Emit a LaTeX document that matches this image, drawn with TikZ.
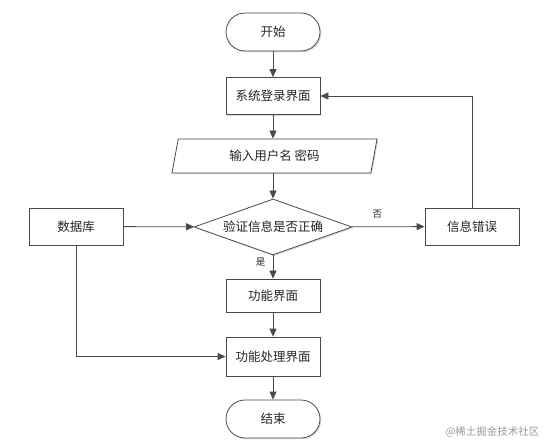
\documentclass[tikz,border=0pt]{standalone}
\usepackage{fontspec}
\setmainfont{Noto Sans CJK SC}
\usetikzlibrary{arrows.meta,shapes.geometric,shadows}
\definecolor{linec}{HTML}{4A4A4A}
\begin{document}
\begin{tikzpicture}[x=1pt,y=-1pt,
  every node/.style={font=\fontsize{12.5}{14}\selectfont, text=black!85},
  base/.style={draw=linec, line width=0.8pt, fill=white, inner sep=0pt,
    drop shadow={shadow xshift=1.2pt, shadow yshift=-1.2pt, fill=black!25, opacity=0.6}},
  procbox/.style={base, rectangle, minimum width=94pt, minimum height=37pt},
  term/.style={base, rectangle, rounded corners=19pt, minimum width=94pt, minimum height=38pt},
  iobox/.style={base, trapezium, trapezium left angle=62, trapezium right angle=118,
    trapezium stretches body, minimum width=205pt, minimum height=34pt},
  decide/.style={base, diamond, aspect=2.8, minimum width=158pt, minimum height=56pt},
  conn/.style={draw=linec, line width=0.8pt, -{Triangle[length=8pt,width=7pt]}},
  small/.style={font=\fontsize{9.5}{11}\selectfont}]
\useasboundingbox (0,0) rectangle (546,446);
\node[term]    (start) at (273,32)    {开始};
\node[procbox] (login) at (273,96)    {系统登录界面};
\node[iobox]   (input) at (274.5,156) {输入用户名 密码};
\node[decide]  (check) at (273,227)   {验证信息是否正确};
\node[procbox] (db)    at (76,226.5)  {数据库};
\node[procbox] (err)   at (472,226.5) {信息错误};
\node[procbox, minimum height=33pt] (func) at (273,295.5) {功能界面};
\node[procbox, minimum height=39pt] (proc) at (273,356.5) {功能处理界面};
\node[term]    (end)   at (273,419)   {结束};
\draw[conn] (start) -- (login);
\draw[conn] (login) -- (login.south |- input.north);
\draw[conn] (check.north |- input.south) -- (check);
\draw[conn] (db) -- (check);
\draw[conn] (check) -- node[small, above=5pt, pos=0.35] (no) {否} (err);
\draw[conn] (check) -- node[small, left=4pt, pos=0.3] (yes) {是} (func);
\draw[conn] (err.north) |- (login.east);
\draw[conn] (func) -- (proc);
\draw[conn] (db.south) |- (proc.west);
\draw[conn] (proc) -- (end);
\node[font=\fontsize{10.5}{12}\selectfont, text=black!40, anchor=east] (wm) at (543,432) {@稀土掘金技术社区};
\end{tikzpicture}
\end{document}
